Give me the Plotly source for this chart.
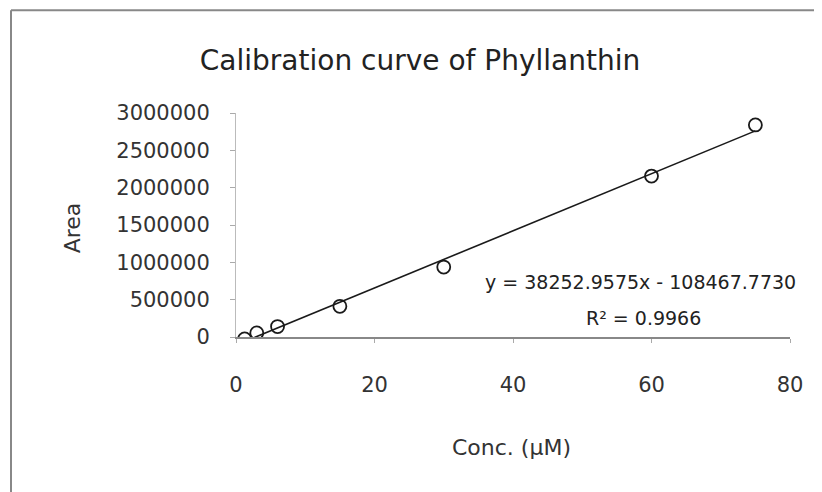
import plotly.graph_objects as go

# calibration standards
conc = [1.25, 3, 6, 15, 30, 60, 75]
area = [-25000, 55000, 140000, 411000, 937000, 2155000, 2840000]

# linear fit reported on the chart
slope = 38252.9575
intercept = -108467.7730
r2 = 0.9966

x_ticks = [0, 20, 40, 60, 80]
y_ticks = [0, 500000, 1000000, 1500000, 2000000, 2500000, 3000000]

FONT = "DejaVu Sans"

# the page body adds an 8px margin, so the figure is drawn 8px smaller
OFF = 8
W, H = 822 - OFF, 492 - OFF
X0, X1 = 236, 790      # plot area, page pixels
Y0, Y1 = 336.7, 112.7


def px(x):
    return (x - X0) / (X1 - X0)


def py(y):
    return (Y0 - y) / (Y0 - Y1)


fig = go.Figure()

# trend line across the data range
x_fit = [min(conc), max(conc)]
y_fit = [slope * v + intercept for v in x_fit]
fig.add_trace(go.Scatter(
    x=x_fit, y=y_fit, mode='lines',
    line=dict(color='#1a1a1a', width=1.6),
    hoverinfo='skip', showlegend=False
))

fig.add_trace(go.Scatter(
    x=conc, y=area, mode='markers',
    marker=dict(symbol='circle-open', size=13, color='#1a1a1a', line=dict(width=1.8)),
    showlegend=False
))

fig.update_layout(
    width=W, height=H,
    margin=dict(l=X0 - OFF, r=822 - X1, t=Y1 - OFF, b=492 - Y0),
    paper_bgcolor='white', plot_bgcolor='white',
    font=dict(family=FONT, color='#333333'),
    title=dict(
        text="Calibration curve of Phyllanthin",
        x=(420 - OFF) / W, xanchor='center',
        y=1 - (60 - OFF) / H, yanchor='middle',
        font=dict(size=28, color='#222222', family=FONT)
    ),
    xaxis=dict(
        range=[0, 80], tickvals=x_ticks, ticktext=[str(v) for v in x_ticks],
        showgrid=False, zeroline=False, showline=True, linecolor='#888888', linewidth=1.5,
        ticks='outside', ticklen=4, tickcolor='#aaaaaa', ticklabelstandoff=24,
        tickfont=dict(size=21, color='#333333'),
    ),
    yaxis=dict(
        range=[0, 3000000], tickvals=y_ticks, ticktext=[str(v) for v in y_ticks],
        showgrid=False, zeroline=False, showline=True, linecolor='#bbbbbb', linewidth=1,
        ticks='outside', ticklen=5, tickcolor='#aaaaaa', ticklabelstandoff=16,
        tickfont=dict(size=21, color='#333333'),
    ),
)

# axis titles
fig.add_annotation(
    text="Conc. (µM)", xref='paper', yref='paper',
    x=px(511), y=py(447), xanchor='center', yanchor='middle',
    showarrow=False, font=dict(size=22, color='#333333')
)
fig.add_annotation(
    text="Area", xref='paper', yref='paper',
    x=px(72), y=py(228), xanchor='center', yanchor='middle',
    textangle=-90, showarrow=False, font=dict(size=22, color='#333333')
)

# equation text
fig.add_annotation(
    text=f"y = {slope:.4f}x - {abs(intercept):.4f}", xref='paper', yref='paper',
    x=px(640), y=py(282), xanchor='center', yanchor='middle',
    showarrow=False, font=dict(size=19, color='#222222')
)
fig.add_annotation(
    text=f"R² = {r2}", xref='paper', yref='paper',
    x=px(643), y=py(318), xanchor='center', yanchor='middle',
    showarrow=False, font=dict(size=19, color='#222222')
)

# outer frame of the chart box
fig.add_shape(type='line', xref='paper', yref='paper',
              x0=px(11), x1=px(11), y0=py(500), y1=py(10),
              line=dict(color='#888888', width=2))
fig.add_shape(type='line', xref='paper', yref='paper',
              x0=px(11), x1=px(830), y0=py(10), y1=py(10),
              line=dict(color='#888888', width=2))

fig.write_html("out.html")
